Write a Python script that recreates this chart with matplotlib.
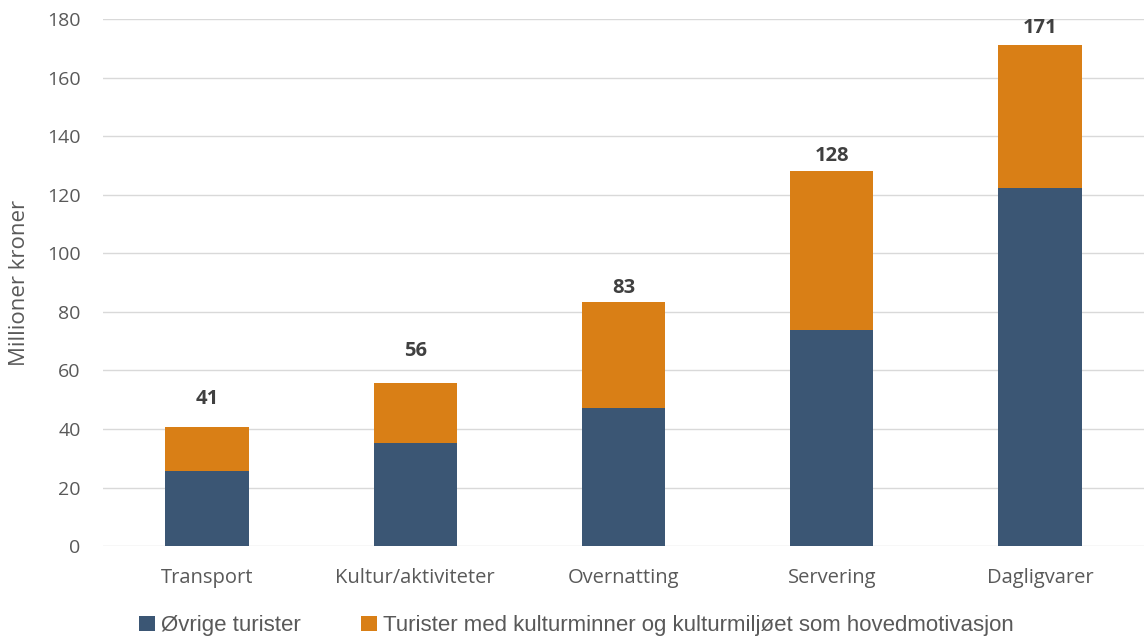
import matplotlib
matplotlib.use("Agg")
import matplotlib.pyplot as plt
import numpy as np

kategorier = ["Transport", "Kultur/aktiviteter", "Overnatting", "Servering", "Dagligvarer"]
ovrige = [25.6, 35.2, 47.1, 73.8, 122.3]
kultur = [15.1, 20.5, 36.2, 54.3, 48.8]
totalt = ["41", "56", "83", "128", "171"]

blaa = "#3b5674"
oransje = "#d97f16"
tekst = "#595959"

# hvor sumetikettene står (grunnlinje, i aksens enheter)
etikett_y = [48.5, 64.9, 86.4, 131.5, 175.2]

plt.rcParams["font.family"] = ["Open Sans", "DejaVu Sans"]

fig = plt.figure(figsize=(11.44, 6.41), dpi=100)
ax = fig.add_axes([0.09, 0.148, 0.91, 0.822])

x = np.arange(len(kategorier))
ax.bar(x, ovrige, width=0.4, color=blaa, label="Øvrige turister", zorder=3)
ax.bar(x, kultur, width=0.4, bottom=ovrige, color=oransje,
       label="Turister med kulturminner og kulturmiljøet som hovedmotivasjon", zorder=3)

for xi, yi, lab in zip(x, etikett_y, totalt):
    ax.text(xi, yi, lab, ha="center", va="baseline", fontsize=14.5,
            fontweight="bold", color="#404040", zorder=4)

ax.set_xlim(-0.5, 4.5)
ax.set_ylim(0, 180)
ax.set_yticks(range(0, 181, 20))
ax.set_xticks(x)
ax.set_xticklabels(kategorier)
ax.yaxis.grid(True, color="#d9d9d9", linewidth=1, zorder=0)
ax.tick_params(axis="both", length=0, colors=tekst)
ax.tick_params(axis="y", pad=16, labelsize=14)
ax.tick_params(axis="x", pad=16, labelsize=14.5)
for s in ax.spines.values():
    s.set_visible(False)
ax.set_ylabel("Millioner kroner", fontsize=16, color=tekst)
ax.yaxis.set_label_coords(-0.07, 0.5)

leg = fig.legend(loc="lower left", bbox_to_anchor=(0.104, -0.024), ncol=2,
                 frameon=False, handlelength=0.7, handleheight=0.7,
                 handletextpad=0.3, columnspacing=2.7,
                 prop={"family": ["Liberation Sans Narrow", "Liberation Sans", "DejaVu Sans"], "size": 16})
for t in leg.get_texts():
    t.set_color(tekst)

fig.savefig("out.png", dpi=100)
